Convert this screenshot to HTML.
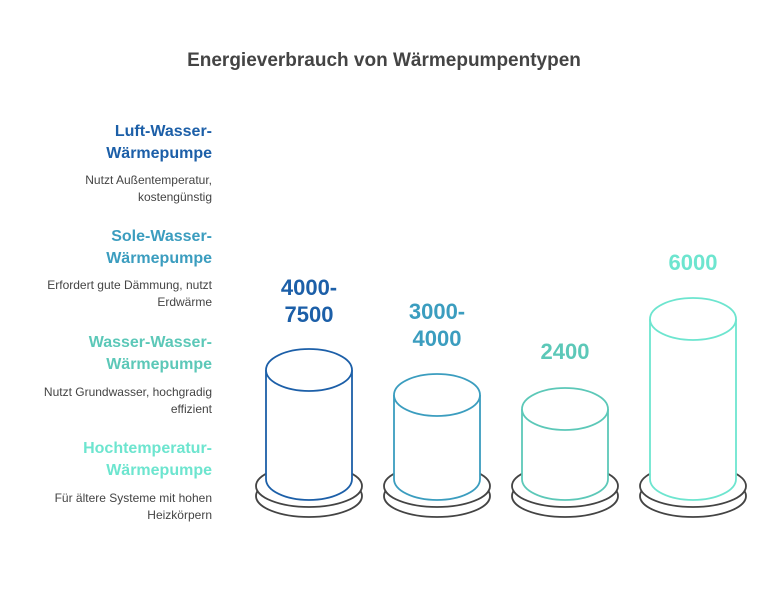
<!DOCTYPE html>
<html><head><meta charset="utf-8"><style>
html,body{margin:0;padding:0;background:#fff;}
svg text{font-family:"Liberation Sans",sans-serif;}
</style></head><body>
<svg width="768" height="587" viewBox="0 0 768 587" xmlns="http://www.w3.org/2000/svg">
<rect width="768" height="587" fill="#fff"/>
<text x="384" y="66" text-anchor="middle" font-size="19" font-weight="bold" fill="#444">Energieverbrauch von Wärmepumpentypen</text>
<g text-anchor="end">
<text x="212" y="136" font-size="16" font-weight="bold" fill="#1c5fa8">Luft-Wasser-</text>
<text x="212" y="158" font-size="16" font-weight="bold" fill="#1c5fa8">Wärmepumpe</text>
<text x="212" y="184" font-size="12" fill="#444">Nutzt Außentemperatur,</text>
<text x="212" y="201" font-size="12" fill="#444">kostengünstig</text>
<text x="212" y="241" font-size="16" font-weight="bold" fill="#3b9dbf">Sole-Wasser-</text>
<text x="212" y="263" font-size="16" font-weight="bold" fill="#3b9dbf">Wärmepumpe</text>
<text x="212" y="289" font-size="12" fill="#444">Erfordert gute Dämmung, nutzt</text>
<text x="212" y="306" font-size="12" fill="#444">Erdwärme</text>
<text x="212" y="347" font-size="16" font-weight="bold" fill="#5cc8b8">Wasser-Wasser-</text>
<text x="212" y="369" font-size="16" font-weight="bold" fill="#5cc8b8">Wärmepumpe</text>
<text x="212" y="396" font-size="12" fill="#444">Nutzt Grundwasser, hochgradig</text>
<text x="212" y="413" font-size="12" fill="#444">effizient</text>
<text x="212" y="453" font-size="16" font-weight="bold" fill="#6de5cf">Hochtemperatur-</text>
<text x="212" y="475" font-size="16" font-weight="bold" fill="#6de5cf">Wärmepumpe</text>
<text x="212" y="502" font-size="12" fill="#444">Für ältere Systeme mit hohen</text>
<text x="212" y="519" font-size="12" fill="#444">Heizkörpern</text>
</g>
<g stroke-width="1.8" fill="#fff">
<!-- cyl 1 -->
<ellipse cx="309" cy="496" rx="53" ry="21" stroke="#444"/>
<ellipse cx="309" cy="486" rx="53" ry="21" stroke="#444"/>
<path d="M266 370 V479 A43 21 0 0 0 352 479 V370" stroke="#1c5fa8"/>
<ellipse cx="309" cy="370" rx="43" ry="21" stroke="#1c5fa8"/>
<!-- cyl 2 -->
<ellipse cx="437" cy="496" rx="53" ry="21" stroke="#444"/>
<ellipse cx="437" cy="486" rx="53" ry="21" stroke="#444"/>
<path d="M394 395 V479 A43 21 0 0 0 480 479 V395" stroke="#3b9dbf"/>
<ellipse cx="437" cy="395" rx="43" ry="21" stroke="#3b9dbf"/>
<!-- cyl 3 -->
<ellipse cx="565" cy="496" rx="53" ry="21" stroke="#444"/>
<ellipse cx="565" cy="486" rx="53" ry="21" stroke="#444"/>
<path d="M522 409 V479 A43 21 0 0 0 608 479 V409" stroke="#5cc8b8"/>
<ellipse cx="565" cy="409" rx="43" ry="21" stroke="#5cc8b8"/>
<!-- cyl 4 -->
<ellipse cx="693" cy="496" rx="53" ry="21" stroke="#444"/>
<ellipse cx="693" cy="486" rx="53" ry="21" stroke="#444"/>
<path d="M650 319 V479 A43 21 0 0 0 736 479 V319" stroke="#6de5cf"/>
<ellipse cx="693" cy="319" rx="43" ry="21" stroke="#6de5cf"/>
</g>
<g text-anchor="middle" font-size="22" font-weight="bold">
<text x="309" y="295" fill="#1c5fa8">4000-</text>
<text x="309" y="322" fill="#1c5fa8">7500</text>
<text x="437" y="319" fill="#3b9dbf">3000-</text>
<text x="437" y="346" fill="#3b9dbf">4000</text>
<text x="565" y="359" fill="#5cc8b8">2400</text>
<text x="693" y="270" fill="#6de5cf">6000</text>
</g>
</svg>
</body></html>
